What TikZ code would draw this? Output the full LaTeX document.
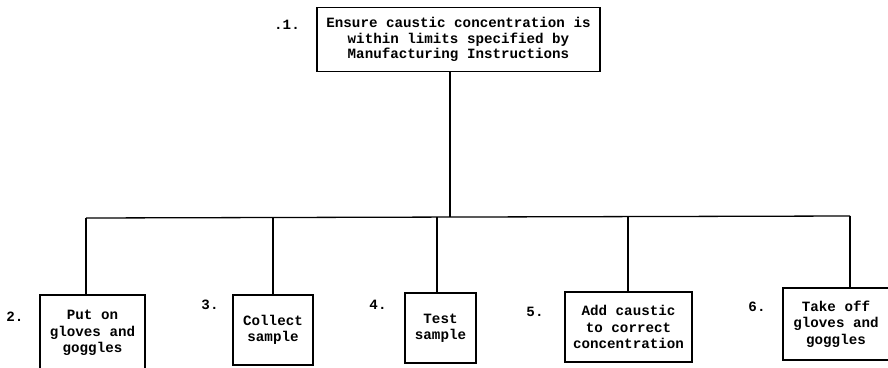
\documentclass[tikz,border=0pt]{standalone}
\usepackage{fontspec}
\setmainfont{Liberation Mono}
\usetikzlibrary{calc}
\begin{document}
\begin{tikzpicture}[x=1pt,y=-1pt,
  every node/.style={font=\fontsize{14.2}{16.5}\selectfont\bfseries},
  task/.style={draw, line width=1.6pt, align=center, inner sep=0pt},
  num/.style={inner sep=0pt},
  link/.style={line width=1.3pt}]
\useasboundingbox (0,0) rectangle (888,367);

% top goal
\node[task, minimum width=283, minimum height=64,
      font=\fontsize{14.2}{15.2}\selectfont\bfseries] (top) at (458.5,39.5)
  {Ensure caustic concentration is\\within limits specified by\\Manufacturing Instructions};
\node[num] (n1) at (287,25) {.1.};

% sub-tasks
\node[task, minimum width=105, minimum height=76] (b2) at (92.5,333) {Put on\\gloves and\\goggles};
\node[task, minimum width=80, minimum height=70] (b3) at (273,330) {Collect\\sample};
\node[task, minimum width=71, minimum height=70] (b4) at (440.5,328) {Test\\sample};
\node[task, minimum width=127, minimum height=70] (b5) at (628.5,327) {Add caustic\\to correct\\concentration};
\node[task, minimum width=106, minimum height=72] (b6) at (836,324) {Take off\\gloves and\\goggles};

\node[num] (n2) at (15,317) {2.};
\node[num] (n3) at (210,305) {3.};
\node[num] (n4) at (378,305) {4.};
\node[num] (n5) at (535,312) {5.};
\node[num] (n6) at (757,307) {6.};

% connector tree
\coordinate (j) at (450,217);
\coordinate (d2) at (86,218);
\coordinate (d3) at (273,217.5);
\coordinate (d4) at (437,217);
\coordinate (d5) at (628,216.5);
\coordinate (d6) at (850,216);
\draw[link] (top.south -| j) -- (j);
\draw[link] (d2) -- (d6);
\draw[link] (d2) -- (d2 |- b2.north);
\draw[link] (d3) -- (d3 |- b3.north);
\draw[link] (d4) -- (d4 |- b4.north);
\draw[link] (d5) -- (d5 |- b5.north);
\draw[link] (d6) -- (d6 |- b6.north);
\end{tikzpicture}
\end{document}
